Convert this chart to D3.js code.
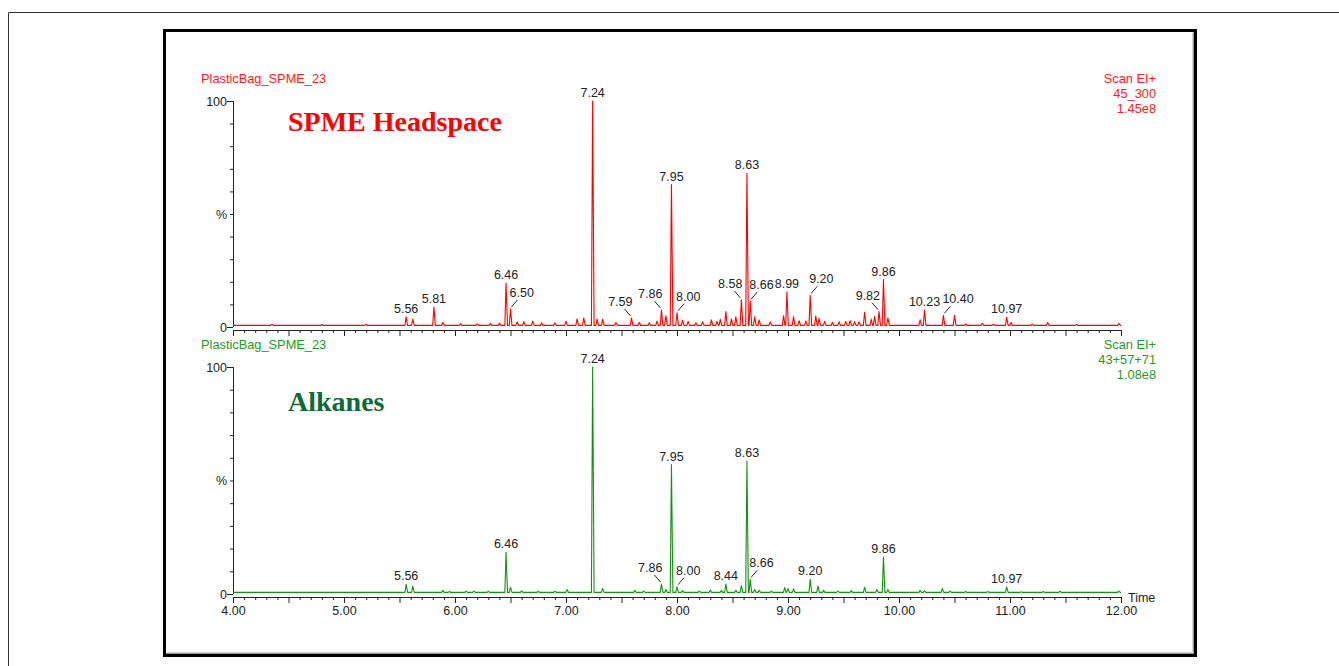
<!DOCTYPE html>
<html>
<head>
<meta charset="utf-8">
<script src="https://cdn.jsdelivr.net/npm/d3@7"></script>
<style>
body { margin: 0; background: #fff; }
svg { display: block; font-family: Arial, "Liberation Sans", sans-serif; }
.axis text { font-size: 12.5px; fill: #222; }
.axis line, .axis path { stroke: #222; }
.peakText { font-size: 12.5px; fill: #222; }
.header { font-size: 12.8px; }
.title { font-family: "Liberation Serif", "Times New Roman", serif; font-weight: bold; font-size: 28px; }
</style>
</head>
<body>
<div id="chart"></div>
<script>

// retention time axis
var timeRange = [4, 12];
var xTickLabels = ["4.00", "5.00", "6.00", "7.00", "8.00", "9.00", "10.00", "11.00", "12.00"];

// SPME headspace, m/z 45_300 (time, % of 1.45e8)
var redPeaks = [
  [4.35, 1.2], [4.8, 1.1], [5.2, 1.2], [5.56, 4.5], [5.62, 3.5], [5.81, 8.8], [5.89, 2.0],
  [6.05, 1.5], [6.2, 1.4], [6.32, 1.6], [6.40, 1.7], [6.46, 19.4], [6.50, 8.0],
  [6.56, 2.3], [6.62, 2.4], [6.70, 2.6], [6.78, 1.9], [6.9, 1.9], [7.0, 2.6],
  [7.10, 3.6], [7.16, 4.0], [7.24, 100], [7.28, 3.5], [7.33, 3.4], [7.45, 2.0],
  [7.59, 4.0], [7.66, 2.1], [7.75, 1.9], [7.82, 2.6], [7.86, 7.5], [7.90, 5.0],
  [7.95, 63], [8.00, 6.3], [8.05, 3.0], [8.1, 2.5], [8.17, 1.9], [8.23, 2.4],
  [8.31, 3.2], [8.36, 2.5], [8.39, 3.4], [8.44, 6.8], [8.49, 3.5], [8.53, 4.5],
  [8.58, 12], [8.63, 68], [8.66, 11.5], [8.70, 4.5], [8.74, 3.2], [8.84, 2.3],
  [8.96, 5.0], [8.99, 15.6], [9.05, 4.6], [9.10, 2.8], [9.16, 2.6], [9.20, 14],
  [9.25, 4.8], [9.28, 3.8], [9.33, 2.5], [9.40, 2.1], [9.46, 2.3], [9.52, 2.5],
  [9.56, 2.8], [9.60, 2.4], [9.64, 2.3], [9.69, 6.5], [9.75, 3.4], [9.78, 4.6],
  [9.82, 6.8], [9.86, 21], [9.90, 4.0], [10.19, 3.2], [10.23, 7.5], [10.40, 5.2],
  [10.50, 5.2], [10.6, 1.4], [10.75, 1.6], [10.85, 1.3], [10.97, 4.3], [11.01, 2.0],
  [11.2, 1.3], [11.34, 2.0], [11.6, 1.1], [11.98, 1.6]
];

// alkanes, m/z 43+57+71 (time, % of 1.08e8)
var greenPeaks = [
  [5.56, 4.3], [5.62, 3.5], [5.89, 1.6], [5.95, 1.1], [6.1, 1.3], [6.17, 1.3], [6.3, 1.2],
  [6.46, 18.4], [6.50, 3.0], [6.6, 1.4], [6.75, 1.2], [6.9, 1.2], [7.01, 2.0],
  [7.24, 100], [7.33, 2.5], [7.62, 1.6], [7.7, 1.3], [7.86, 4.4], [7.90, 2.0],
  [7.95, 57], [8.00, 3.2], [8.05, 1.5], [8.2, 1.3], [8.30, 1.8], [8.40, 1.6],
  [8.44, 4.4], [8.53, 1.6], [8.58, 3.7], [8.63, 58.6], [8.66, 6.5], [8.70, 2.0],
  [8.74, 1.6], [8.85, 1.3], [8.97, 2.8], [9.00, 2.4], [9.05, 2.2], [9.20, 6.5],
  [9.27, 3.5], [9.32, 1.6], [9.45, 1.3], [9.57, 1.5], [9.69, 3.0], [9.80, 2.0],
  [9.86, 16.3], [9.90, 2.0], [10.19, 1.6], [10.23, 1.4], [10.39, 2.4], [10.46, 1.3],
  [10.6, 1.1], [10.8, 1.1], [10.97, 3.1], [11.1, 1.0], [11.3, 1.1], [11.45, 1.2], [11.98, 1.2]
];

// annotated peaks: time, label side (c = above, l = left with leader, r = right with leader)
var redLabels = [
  [5.56, "c"], [5.81, "c"], [6.46, "c"], [6.50, "r"], [7.24, "c"], [7.59, "l"], [7.86, "l"],
  [7.95, "c"], [8.00, "r"], [8.58, "l"], [8.63, "c"], [8.66, "r"], [8.99, "c"], [9.20, "r"],
  [9.82, "l"], [9.86, "c"], [10.23, "c"], [10.40, "r"], [10.97, "c"]
];
var greenLabels = [
  [5.56, "c"], [6.46, "c"], [7.24, "c"], [7.86, "l"], [7.95, "c"], [8.00, "r"], [8.44, "c"],
  [8.63, "c"], [8.66, "r"], [9.20, "c"], [9.86, "c"], [10.97, "c"]
];

var redHeader = ["PlasticBag_SPME_23", "Scan EI+", "45_300", "1.45e8"];
var greenHeader = ["PlasticBag_SPME_23", "Scan EI+", "43+57+71", "1.08e8"];

var width = 1339, height = 666;

var svg = d3.select("#chart").append("svg")
  .attr("width", width)
  .attr("height", height);

// outer page frame
svg.append("path")
  .attr("d", "M8.5," + height + "V12.5H" + width)
  .attr("fill", "none")
  .attr("stroke", "#333");

// picture frame
svg.append("rect")
  .attr("x", 164.5).attr("y", 30.5)
  .attr("width", 1031).attr("height", 625)
  .attr("fill", "#fff")
  .attr("stroke", "#000")
  .attr("stroke-width", 3);
svg.append("path").attr("d", "M1192.5,33V652.5H167").attr("fill", "none").attr("stroke", "#d4d4d4");
svg.append("path").attr("d", "M1193.5,32V653.5H166").attr("fill", "none").attr("stroke", "#9a9a9a");

var xScale = d3.scaleLinear().domain(timeRange).range([233, 1121]);

var panels = [
  { peaks: redPeaks, labels: redLabels, header: redHeader, title: "SPME Headspace",
    line: "#ff0000", text: "#ff1a1a", titleColor: "#ff0000",
    top: 101, zero: 327, headY: 82.5, titleY: 131, base: 0.7, showLabels: false },
  { peaks: greenPeaks, labels: greenLabels, header: greenHeader, title: "Alkanes",
    line: "#119311", text: "#1f9a1f", titleColor: "#0b6b3a",
    top: 367, zero: 594, headY: 349, titleY: 411, base: 0.7, showLabels: true }
];

panels.forEach(drawPanel);

function drawPanel(p) {
  var yScale = d3.scaleLinear().domain([0, 100]).range([p.zero, p.top]);
  var g = svg.append("g");

  // header text
  g.append("text").attr("class", "header")
    .attr("x", 201).attr("y", p.headY)
    .attr("fill", p.text)
    .text(p.header[0]);
  p.header.slice(1).forEach(function(s, i) {
    g.append("text").attr("class", "header")
      .attr("x", 1156).attr("y", p.headY + i * 15)
      .attr("text-anchor", "end")
      .attr("fill", p.text)
      .text(s);
  });

  g.append("text").attr("class", "title")
    .attr("x", 288).attr("y", p.titleY)
    .attr("fill", p.titleColor)
    .text(p.title);

  // y axis
  var yAxis = g.append("g")
    .attr("class", "axis")
    .attr("transform", "translate(" + xScale(timeRange[0]) + ",0)")
    .call(d3.axisLeft(yScale)
      .tickValues(d3.range(0, 101, 10))
      .tickSize(3)
      .tickSizeOuter(0)
      .tickPadding(4)
      .tickFormat(function(d) { return d === 100 ? "100" : d === 50 ? "%" : d === 0 ? "0" : ""; }));
  yAxis.selectAll(".tick").filter(function(d) { return d === 0 || d === 100; })
    .select("line").attr("x2", -6);
  yAxis.selectAll(".tick text").attr("x", -6);
  yAxis.select(".domain").attr("d", "M0.5," + yScale(100) + "V" + yScale(0));

  // x axis
  var axisY = p.zero + 3;
  var xAxis = g.append("g")
    .attr("class", "axis")
    .attr("transform", "translate(0," + axisY + ")")
    .call(d3.axisBottom(xScale)
      .tickValues(d3.range(40, 121, 1).map(function(v) { return v / 10; }))
      .tickSize(3)
      .tickSizeOuter(0)
      .tickPadding(5)
      .tickFormat(function(d) {
        if (!p.showLabels) return "";
        var i = xTickLabels.indexOf(d.toFixed(2));
        return i >= 0 ? xTickLabels[i] : "";
      }));
  xAxis.selectAll(".tick").filter(function(d) { return Math.abs(d * 2 - Math.round(d * 2)) < 1e-6; })
    .select("line").attr("y2", 6);
  xAxis.selectAll(".tick text").attr("y", 9);

  if (p.showLabels) {
    g.append("text")
      .attr("class", "peakText")
      .attr("x", xScale(timeRange[1]) + 7)
      .attr("y", axisY + 5)
      .text("Time");
  }

  // trace built from the peak list
  var pts = [[timeRange[0], p.base]];
  p.peaks.slice().sort(function(a, b) { return a[0] - b[0]; }).forEach(function(d) {
    pts.push([d[0] - 0.011, p.base]);
    pts.push([d[0], d[1]]);
    pts.push([d[0] + 0.013, p.base]);
  });
  pts.push([timeRange[1], p.base]);

  var line = d3.line()
    .x(function(d) { return xScale(d[0]); })
    .y(function(d) { return yScale(d[1]); });

  g.append("path")
    .datum(pts)
    .attr("fill", "none")
    .attr("stroke", p.line)
    .attr("stroke-width", 1.1)
    .attr("stroke-linejoin", "round")
    .attr("d", line);

  // peak annotations
  var lab = g.selectAll(".peakLabel")
    .data(p.labels)
    .enter()
    .append("g")
    .attr("class", "peakLabel")
    .attr("transform", function(d) {
      var pk = p.peaks.find(function(q) { return q[0] === d[0]; });
      return "translate(" + xScale(d[0]) + "," + yScale(pk[1]) + ")";
    });

  lab.filter(function(d) { return d[1] !== "c"; })
    .append("line")
    .attr("x1", function(d) { return d[1] === "l" ? -1 : 1; })
    .attr("y1", -2)
    .attr("x2", function(d) { return d[1] === "l" ? -7 : 7; })
    .attr("y2", -9)
    .attr("stroke", "#222");

  lab.append("text")
    .attr("class", "peakText")
    .attr("x", function(d) { return d[1] === "l" ? 1 : d[1] === "r" ? -1 : 0; })
    .attr("y", function(d) { return d[1] === "c" ? -4 : -12; })
    .attr("text-anchor", function(d) { return d[1] === "l" ? "end" : d[1] === "r" ? "start" : "middle"; })
    .text(function(d) { return d[0].toFixed(2); });
}

</script>
</body>
</html>
